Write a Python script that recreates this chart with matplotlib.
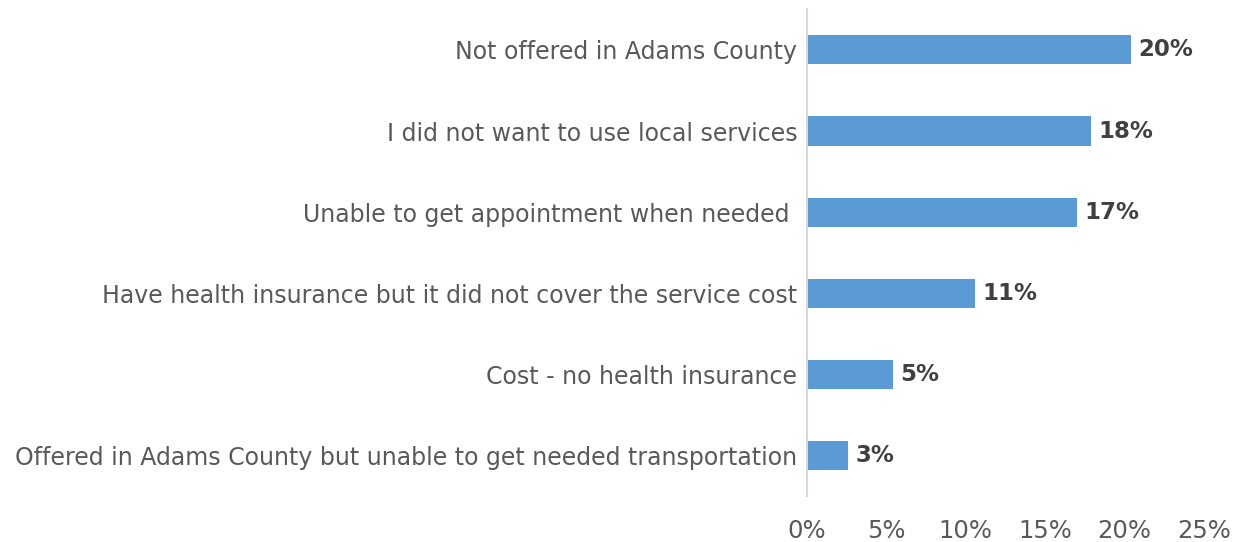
import matplotlib
matplotlib.use("Agg")
import matplotlib.pyplot as plt
from matplotlib.ticker import FuncFormatter

plt.rcParams["font.family"] = ["DejaVu Sans"]

categories = [
    "Not offered in Adams County",
    "I did not want to use local services",
    "Unable to get appointment when needed ",
    "Have health insurance but it did not cover the service cost",
    "Cost - no health insurance",
    "Offered in Adams County but unable to get needed transportation",
]
values = [20.4, 17.9, 17.0, 10.6, 5.4, 2.6]
xticks = [0, 5, 10, 15, 20, 25]

fig = plt.figure(figsize=(12.4, 5.42), dpi=100)
ax = fig.add_axes([0.6508, 0.084, 0.3202, 0.899])

y = list(range(len(categories)))[::-1]
ax.barh(y, values, height=0.36, color="#5B9BD5", zorder=2)
for yi, v in zip(y, values):
    ax.text(v + 0.45, yi, f"{v:.0f}%", va="center", ha="left",
            fontsize=16.5, fontweight="bold", color="#404040")

ax.set_yticks(y)
ax.set_yticklabels(categories, fontsize=17, color="#595959")
ax.set_ylim(-0.5, len(categories) - 0.5)
ax.set_xlim(0, 25)
ax.set_xticks(xticks)
ax.xaxis.set_major_formatter(FuncFormatter(lambda v, p: f"{v:.0f}%"))
ax.tick_params(axis="x", labelsize=17.5, colors="#595959", length=0, pad=16)
ax.tick_params(axis="y", length=0, pad=7)
for s in ["top", "right", "bottom"]:
    ax.spines[s].set_visible(False)
ax.spines["left"].set_color("#D9D9D9")
ax.spines["left"].set_linewidth(1.5)

fig.savefig("out.png", dpi=100)
